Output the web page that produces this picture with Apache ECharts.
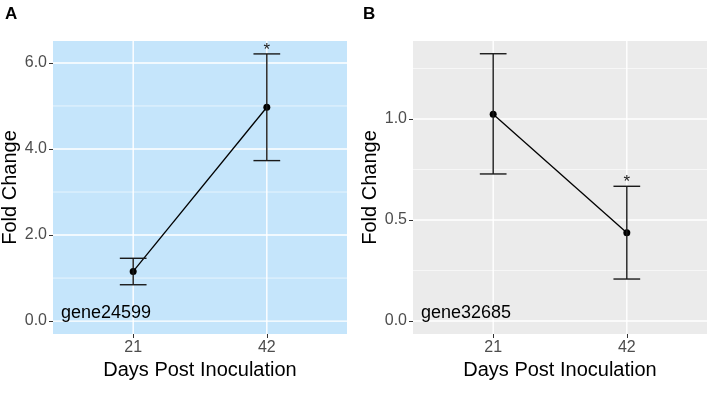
<!DOCTYPE html>
<html>
<head>
<meta charset="utf-8">
<script src="https://cdn.jsdelivr.net/npm/echarts@6/dist/echarts.min.js"></script>
<style>
  html, body { margin: 0; padding: 0; background: #fff; }
  #chart { width: 714px; height: 412px; }
</style>
</head>
<body>
<div id="chart"></div>
<script>
// data
const days = ["21", "42"];
const meanA = [1.155, 4.97];
const lowA = [0.845, 3.73];
const highA = [1.46, 6.21];
const sigA = ["", "*"];
const meanB = [1.023, 0.437];
const lowB = [0.728, 0.208];
const highB = [1.323, 0.667];
const sigB = ["", "*"];
const ticksA = [0, 2, 4, 6];
const minorA = [1, 3, 5];
const ticksB = [0, 0.5, 1.0];
const minorB = [0.25, 0.75, 1.25];
const genes = ["gene24599", "gene32685"];

const FONT = "Liberation Sans, Arial, sans-serif";

var myChart = echarts.init(document.getElementById("chart"));

function hLines(width) {
    return function (params, api) {
        const cs = params.coordSys;
        const y = api.coord([0, api.value(1)])[1];
        return {
            type: "line",
            shape: { x1: cs.x, y1: y, x2: cs.x + cs.width, y2: y },
            style: { stroke: "#fff", lineWidth: width },
        };
    };
}
function vLines(params, api) {
    const cs = params.coordSys;
    const x = api.coord([api.value(0), 0])[0];
    return {
        type: "line",
        shape: { x1: x, y1: cs.y, x2: x, y2: cs.y + cs.height },
        style: { stroke: "#fff", lineWidth: 1.4 },
    };
}
function errorBars(sig) {
    return function (params, api) {
        const i = api.value(0);
        const lo = api.coord([i, api.value(1)]);
        const hi = api.coord([i, api.value(2)]);
        const half = api.size([0.1, 0])[0];
        const st = { stroke: "#1a1a1a", lineWidth: 1.4 };
        return {
            type: "group",
            children: [
                { type: "line", shape: { x1: lo[0], y1: lo[1], x2: hi[0], y2: hi[1] }, style: st },
                { type: "line", shape: { x1: hi[0] - half, y1: hi[1], x2: hi[0] + half, y2: hi[1] }, style: st },
                { type: "line", shape: { x1: lo[0] - half, y1: lo[1], x2: lo[0] + half, y2: lo[1] }, style: st },
                {
                    type: "text",
                    style: {
                        text: sig[params.dataIndex], x: hi[0], y: hi[1] - 4,
                        align: "center", verticalAlign: "middle",
                        fontSize: 17, fontFamily: FONT, fill: "#1a1a1a",
                    },
                },
            ],
        };
    };
}

function xAxis(idx) {
    return {
        type: "value", gridIndex: idx, min: -0.6, max: 1.6,
        axisLine: { show: false, onZero: false },
        splitLine: { show: false },
        axisTick: { show: true, length: 4, customValues: [0, 1], lineStyle: { color: "#333", width: 1 } },
        axisLabel: {
            customValues: [0, 1], margin: 6, fontSize: 16, color: "#4d4d4d", fontFamily: FONT,
            formatter: (v) => days[Math.round(v)],
        },
        name: "Days Post Inoculation", nameLocation: "middle", nameGap: 24,
        nameTextStyle: { fontSize: 20, color: "#000", fontFamily: FONT },
    };
}
function yAxis(idx, min, max, ticks) {
    return {
        type: "value", gridIndex: idx, min: min, max: max,
        axisLine: { show: false, onZero: false },
        splitLine: { show: false },
        axisTick: { show: true, length: 4, customValues: ticks, lineStyle: { color: "#333", width: 1 } },
        axisLabel: {
            customValues: ticks, margin: 6, fontSize: 16, color: "#4d4d4d", fontFamily: FONT,
            formatter: (v) => v.toFixed(1),
        },
        name: "Fold Change", nameLocation: "middle", nameGap: 33,
        nameTextStyle: { fontSize: 20, color: "#000", fontFamily: FONT },
    };
}

function panelSeries(idx, mean, low, high, sig, ticks, minor) {
    return [
        { type: "custom", xAxisIndex: idx, yAxisIndex: idx, z: 1, silent: true, clip: true,
          data: minor.map((v) => [0, v]), renderItem: hLines(0.6) },
        { type: "custom", xAxisIndex: idx, yAxisIndex: idx, z: 1, silent: true, clip: true,
          data: ticks.map((v) => [0, v]), renderItem: hLines(1.4) },
        { type: "custom", xAxisIndex: idx, yAxisIndex: idx, z: 1, silent: true,
          data: days.map((d, i) => [i, 0]), renderItem: vLines },
        { type: "line", xAxisIndex: idx, yAxisIndex: idx, z: 3,
          data: mean.map((v, i) => [i, v]),
          symbol: "circle", symbolSize: 7, itemStyle: { color: "#000" },
          lineStyle: { color: "#000", width: 1.3 } },
        { type: "custom", xAxisIndex: idx, yAxisIndex: idx, z: 4, silent: true,
          data: mean.map((v, i) => [i, low[i], high[i]]), renderItem: errorBars(sig) },
    ];
}

option = {
    animation: false,
    grid: [
        { left: 53, top: 41, width: 294, height: 293, show: true, backgroundColor: "#c5e5fb",
          borderWidth: 0, containLabel: false, outerBoundsMode: "none" },
        { left: 413, top: 41, width: 294, height: 293, show: true, backgroundColor: "#ebebeb",
          borderWidth: 0, containLabel: false, outerBoundsMode: "none" },
    ],
    xAxis: [xAxis(0), xAxis(1)],
    yAxis: [yAxis(0, -0.3, 6.51, ticksA), yAxis(1, -0.064, 1.386, ticksB)],
    series: [].concat(
        panelSeries(0, meanA, lowA, highA, sigA, ticksA, minorA),
        panelSeries(1, meanB, lowB, highB, sigB, ticksB, minorB)
    ),
    graphic: [
        { type: "text", left: 5, top: 6, style: { text: "A", fontSize: 17, fontWeight: "bold", fontFamily: FONT, fill: "#000" } },
        { type: "text", left: 363, top: 6, style: { text: "B", fontSize: 17, fontWeight: "bold", fontFamily: FONT, fill: "#000" } },
        { type: "text", left: 61, top: 304, z: 10, style: { text: genes[0], fontSize: 18, fontFamily: FONT, fill: "#000" } },
        { type: "text", left: 421, top: 304, z: 10, style: { text: genes[1], fontSize: 18, fontFamily: FONT, fill: "#000" } },
    ],
};
myChart.setOption(option, true);
</script>
</body>
</html>
